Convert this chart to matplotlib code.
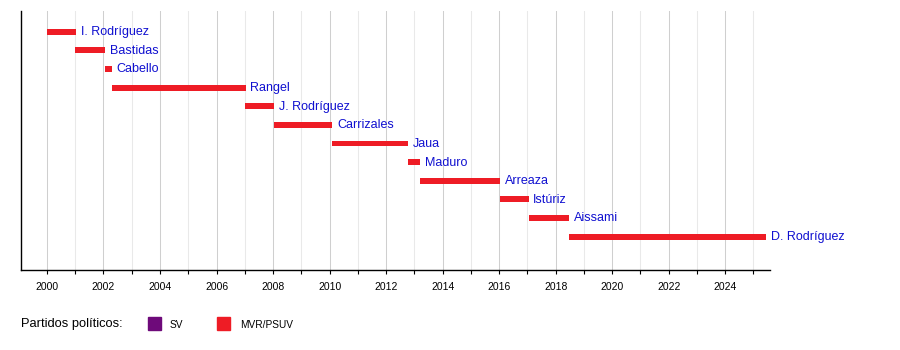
import matplotlib
matplotlib.use('Agg')
import matplotlib.pyplot as plt
from matplotlib.patches import Rectangle
from matplotlib.ticker import MultipleLocator

plt.rcParams['font.family'] = ['Liberation Sans', 'DejaVu Sans']

# vicepresidentes, periodos (años decimales)
names = ['I. Rodríguez', 'Bastidas', 'Cabello', 'Rangel', 'J. Rodríguez', 'Carrizales',
         'Jaua', 'Maduro', 'Arreaza', 'Istúriz', 'Aissami', 'D. Rodríguez']
starts = [2000.0, 2001.0, 2002.07, 2002.3, 2007.0, 2008.05,
          2010.1, 2012.78, 2013.2, 2016.04, 2017.04, 2018.47]
ends = [2001.02, 2002.07, 2002.3, 2007.03, 2008.05, 2010.1,
        2012.78, 2013.2, 2016.04, 2017.04, 2018.47, 2025.45]
parties = ['MVR/PSUV'] * len(names)

party_names = ['SV', 'MVR/PSUV']
party_colors = {'SV': '#6e0a7a', 'MVR/PSUV': '#ee1c25'}

fig = plt.figure(figsize=(9, 3.5), dpi=100)
ax = fig.add_axes([0.023, 0.23, 0.833, 0.7386])

rows = list(range(len(names)))
widths = [e - s for s, e in zip(starts, ends)]
ax.barh(rows, widths, left=starts, height=0.32,
        color=[party_colors[p] for p in parties], zorder=3)

for r, e, n in zip(rows, ends, names):
    ax.annotate(n, (e, r), xytext=(3.4, -0.3), textcoords='offset points',
                va='center', ha='left', fontsize=9.0, color='#1010d0')

ax.set_xlim(1999.07, 2025.6)
ax.set_ylim(12.76, -1.11)
ax.xaxis.set_major_locator(MultipleLocator(2))
ax.xaxis.set_minor_locator(MultipleLocator(1))
ax.grid(which='major', axis='x', color='#cfcfcf', linewidth=0.75, zorder=0)
ax.grid(which='minor', axis='x', color='#e9e9e9', linewidth=0.75, zorder=0)
ax.set_yticks([])
for s in ['top', 'right']:
    ax.spines[s].set_visible(False)
ax.spines['left'].set_linewidth(1.0)
ax.spines['bottom'].set_linewidth(1.0)
ax.tick_params(axis='x', which='major', length=3, width=0.8, labelsize=7.5, pad=6, colors='black')
ax.tick_params(axis='x', which='minor', length=3, width=0.8)

# leyenda de partidos
fig.text(20.7 / 900, 1 - 324 / 350, 'Partidos políticos:', fontsize=9.3, va='center', ha='left')
sq_w, sq_h = 12.7 / 900, 12.7 / 350
for p, x0, tx in zip(party_names, [148.3, 217.0], [170.0, 240.0]):
    fig.add_artist(Rectangle((x0 / 900, 1 - 329.7 / 350), sq_w, sq_h,
                             transform=fig.transFigure, color=party_colors[p]))
    fig.text(tx / 900, 1 - 325 / 350, p, fontsize=7.3, va='center', ha='left')

fig.savefig('out.png', dpi=100)
